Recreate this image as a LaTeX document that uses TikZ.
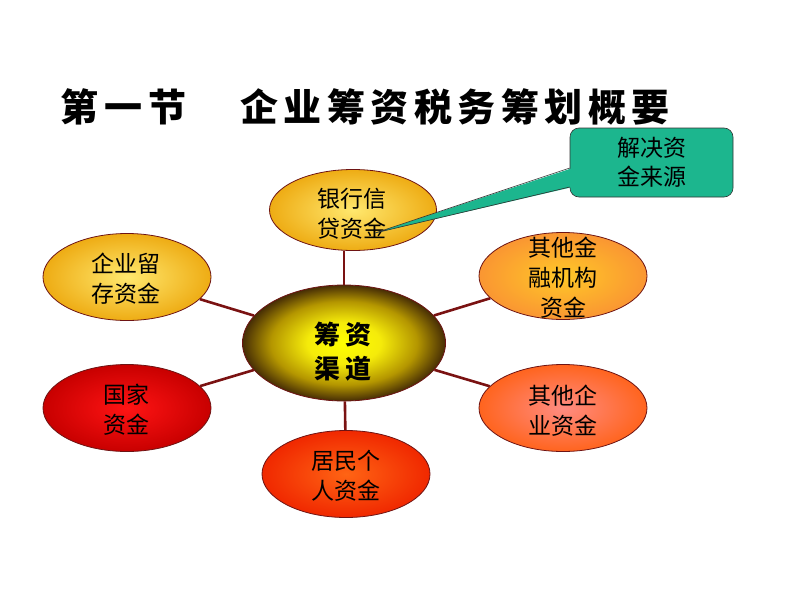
\documentclass[tikz,border=0pt]{standalone}
\usepackage{fontspec}
\newfontfamily\cjk{Noto Sans CJK SC}
\usetikzlibrary{shapes.geometric,calc}
\definecolor{linkred}{RGB}{122,18,18}
\definecolor{rimred}{RGB}{110,20,20}
\definecolor{callfill}{RGB}{28,182,142}
\pgfdeclareradialshading{hubshade}{\pgfpoint{0bp}{0bp}}{%
  color(0bp)=(yellow);
  color(9bp)=(rgb,255:red,245;green,235;blue,10);
  color(18bp)=(rgb,255:red,180;green,150;blue,0);
  color(25bp)=(rgb,255:red,70;green,45;blue,5);
  color(50bp)=(rgb,255:red,70;green,45;blue,5)}
\tikzset{
  bubble/.style={ellipse, draw=rimred, line width=0.8pt, inner sep=0pt,
    minimum width=168pt, minimum height=87pt},
  btext/.style={font=\cjk\fontsize{23}{30}\selectfont, align=center, inner sep=0pt, text=black},
  link/.style={draw=linkred, line width=2.6pt},
  callbox/.style={draw=black!80, line width=0.6pt, fill=callfill, rounded corners=9pt,
    minimum width=163pt, minimum height=69pt, inner sep=0pt,
    font=\cjk\fontsize{23}{29}\selectfont, align=center},
  titlefont/.style={font=\cjk\bfseries\fontsize{38}{44}\selectfont, inner sep=0pt, anchor=west}
}
\begin{document}
\begin{tikzpicture}[x=1pt,y=-1pt]
\useasboundingbox (0,0) rectangle (792,594);

% title
\node[titlefont] (t1) at (60,107) {第\hspace{6pt}一\hspace{6pt}节};
\node[titlefont] (t2) at (240,107) {企\hspace{5.5pt}业\hspace{5.5pt}筹\hspace{5.5pt}资\hspace{5.5pt}税\hspace{5.5pt}务\hspace{5.5pt}筹\hspace{5.5pt}划\hspace{5.5pt}概\hspace{5.5pt}要};

% centre
\node[ellipse, draw=rimred, line width=0.8pt, minimum width=203pt, minimum height=116pt,
      inner sep=0pt, shading=hubshade] (hub) at (344,343) {};
% satellites
\node[bubble, minimum width=167pt, minimum height=81pt,
      inner color={rgb,255:red,255;green,232;blue,110}, outer color={rgb,255:red,238;green,172;blue,20}] (bank) at (353,210) {};
\node[bubble, inner color={rgb,255:red,255;green,232;blue,110}, outer color={rgb,255:red,238;green,172;blue,20}] (keep) at (127,277) {};
\node[bubble, inner color={rgb,255:red,255;green,200;blue,40}, outer color={rgb,255:red,250;green,150;blue,50}] (fin) at (563,276) {};
\node[bubble, inner color={rgb,255:red,255;green,20;blue,20}, outer color={rgb,255:red,200;green,0;blue,0}] (state) at (127,408) {};
\node[bubble, inner color={rgb,255:red,255;green,140;blue,130}, outer color={rgb,255:red,255;green,100;blue,30}] (firm) at (563,408) {};
\node[bubble, inner color={rgb,255:red,255;green,100;blue,20}, outer color={rgb,255:red,240;green,40;blue,0}] (home) at (346,474) {};

% connectors
\path[link] (hub.north) -- (hub.north |- bank.south);
\path[link] (hub) -- (keep);
\path[link] (hub) -- (fin);
\path[link] (hub) -- (state);
\path[link] (hub) -- (firm);
\path[link] (hub) -- (home);

% texts
\node[font=\cjk\bfseries\fontsize{26}{34}\selectfont, align=center, inner sep=0pt] (hubt) at (343,352) {筹\hspace{6pt}资\\渠\hspace{6pt}道};
\node[btext] (bankt) at (352,214) {银行信\\贷资金};
\node[btext] (keept) at (126,279) {企业留\\存资金};
\node[btext] (fint) at (563,278) {其他金\\融机构\\资金};
\node[btext] (statet) at (126,410) {国家\\资金};
\node[btext] (firmt) at (563,411) {其他企\\业资金};
\node[btext] (homet) at (346,476) {居民个\\人资金};

% callout
\node[callbox] (note) at (651.5,162.5) {解决资\\金来源};
\coordinate (tip) at (375,233);
\fill[callfill] ($(note.west)+(3,5.5)$) -- (tip) -- ($(note.west)+(3,24.5)$) -- cycle;
\draw[black!80, line width=0.6pt] ($(note.west)+(0,5.5)$) -- (tip) -- ($(note.west)+(0,24.5)$);
\end{tikzpicture}
\end{document}
